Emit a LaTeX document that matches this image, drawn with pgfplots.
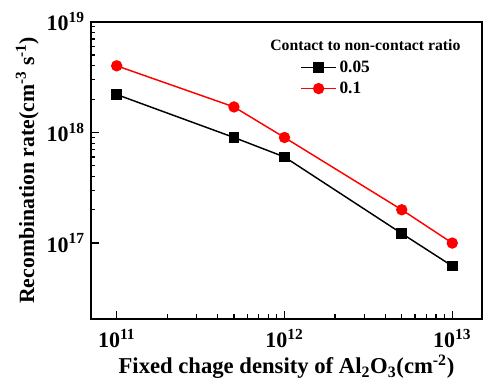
\documentclass[border=0pt]{standalone}
\usepackage{pgfplots}
\pgfplotsset{compat=1.18}
\usepackage{fontspec}
\setmainfont{Liberation Serif}
\begin{document}
\begin{tikzpicture}[font=\bfseries]
\path[use as bounding box] (-68pt,-48pt) rectangle (295.75pt,239.25pt);
\begin{axis}[
  at={(0,0)}, anchor=south west,
  scale only axis, width=293.7pt, height=222.9pt,
  xmode=log, ymode=log,
  xmin=7.0e10, xmax=1.51e13, ymin=2.06e16, ymax=1e19,
  axis line style={line width=1.4pt},
  tick style={black, line width=0.9pt},
  major tick length=6pt, minor tick length=3.5pt,
  tick align=inside, xtick pos=bottom, ytick pos=left,
  xtick={1e11,1e12,1e13},
  xticklabels={10\textsuperscript{11},10\textsuperscript{12},10\textsuperscript{13}},
  ytick={1e17,1e18,1e19},
  yticklabels={10\textsuperscript{17},10\textsuperscript{18},10\textsuperscript{19}},
  ticklabel style={font=\bfseries\fontsize{16.5}{18}\selectfont},
  xticklabel style={yshift=-4pt},
  yticklabel style={xshift=-1pt},
  xlabel={Fixed chage density of Al\textsubscript{2}O\textsubscript{3}(cm\textsuperscript{-2})},
  ylabel={Recombination rate(cm\textsuperscript{-3} s\textsuperscript{-1})},
  xlabel style={font=\bfseries\fontsize{17}{19}\selectfont, yshift=1.5pt},
  ylabel style={font=\bfseries\fontsize{16.3}{18}\selectfont, yshift=-1pt},
  legend style={draw=none, fill=none, at={(rel axis cs:0.535,0.878)}, anchor=north west,
    font=\bfseries\fontsize{13}{15}\selectfont, row sep=1.5pt, inner sep=0pt},
  legend cell align=left,
  legend image code/.code={\draw[mark repeat=2,mark phase=2] plot coordinates {(0cm,0cm) (0.46cm,0cm) (0.92cm,0cm)};},
]
\addplot[black, line width=1.1pt, mark=square*, mark size=3.4pt] coordinates {
 (1e11,2.2e18) (5e11,9.0e17) (1e12,6.0e17) (5e12,1.22e17) (1e13,6.2e16)};
\addlegendentry{0.05}
\addplot[red, line width=1.1pt, mark=*, mark size=3.7pt] coordinates {
 (1e11,4.0e18) (5e11,1.7e18) (1e12,9.0e17) (5e12,2.0e17) (1e13,1.0e17)};
\addlegendentry{0.1}
\node[anchor=west, inner sep=0pt, font=\bfseries\fontsize{11.8}{14}\selectfont] at (rel axis cs:0.458,0.923) {Contact to non-contact ratio};
\end{axis}
\end{tikzpicture}
\end{document}
